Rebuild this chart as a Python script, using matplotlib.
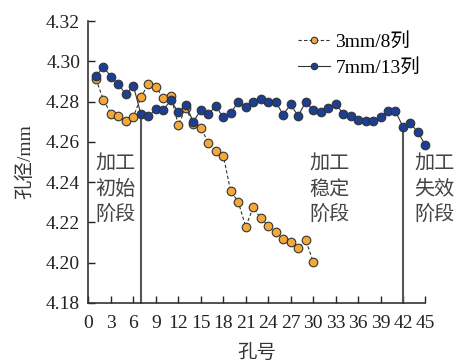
import matplotlib
matplotlib.use("Agg")
import matplotlib.pyplot as plt

plt.rcParams['font.family'] = ['Liberation Serif', 'Noto Sans CJK SC']
plt.rcParams['mathtext.fontset'] = 'stix'

# Data
holes_3mm = list(range(1, 31))
dia_3mm = [4.2912, 4.2809, 4.2740, 4.2728, 4.2705, 4.2725, 4.2821, 4.2888, 4.2874, 4.2816,
           4.2829, 4.2683, 4.2768, 4.2689, 4.2670, 4.2596, 4.2553, 4.2531, 4.2354, 4.2303,
           4.2178, 4.2274, 4.2220, 4.2183, 4.2151, 4.2118, 4.2104, 4.2072, 4.2114, 4.2005]
holes_7mm = list(range(1, 46))
dia_7mm = [4.2927, 4.2972, 4.2924, 4.2886, 4.2836, 4.2879, 4.2738, 4.2726, 4.2763, 4.2760,
           4.2806, 4.2746, 4.2783, 4.2700, 4.2758, 4.2740, 4.2776, 4.2723, 4.2743, 4.2798,
           4.2773, 4.2798, 4.2811, 4.2800, 4.2800, 4.2735, 4.2786, 4.2728, 4.2798, 4.2758,
           4.2750, 4.2768, 4.2790, 4.2740, 4.2730, 4.2708, 4.2702, 4.2706, 4.2725, 4.2751,
           4.2751, 4.2675, 4.2692, 4.2647, 4.2584]
xticks = list(range(0, 46, 3))
yticks = [4.18, 4.20, 4.22, 4.24, 4.26, 4.28, 4.30, 4.32]
stage_bounds = [7, 42]
stage_labels = ["加工\n初始\n阶段", "加工\n稳定\n阶段", "加工\n失效\n阶段"]
stage_label_x = [0.95, 29.5, 43.5]
stage_label_y = 4.2365

fig = plt.figure(figsize=(4.56, 3.64), dpi=100)
ax = fig.add_axes([0.194, 0.168, 0.739, 0.774])

orange = '#F5A83A'
blue = '#1C3F94'
edge = '#333333'

ax.plot(holes_3mm, dia_3mm, linestyle=(0, (3, 2)), color='#333333', lw=0.8,
        marker='o', ms=6.2, mfc=orange, mec=edge, mew=0.8, clip_on=False, label='3mm/8列', zorder=3)
ax.plot(holes_7mm, dia_7mm, linestyle='-', color='#333333', lw=0.8,
        marker='o', ms=6.2, mfc=blue, mec=edge, mew=0.8, clip_on=False, label='7mm/13列', zorder=4)

for b in stage_bounds:
    top = dia_7mm[holes_7mm.index(b)]
    ax.plot([b, b], [4.18, top], color='#555555', lw=1.5, zorder=2, clip_on=False)

for lx, lab in zip(stage_label_x, stage_labels):
    ax.text(lx, stage_label_y, lab, fontsize=14.5, color='#444444', ha='left', va='center',
            linespacing=1.28, family=['Noto Sans CJK SC'], fontweight='light')

ax.set_xlim(0, 45)
ax.set_ylim(4.18, 4.32)
ax.set_xticks(xticks)
ax.set_yticks(yticks)
ax.set_yticklabels([f"{v:.2f}" for v in yticks])
ax.tick_params(direction='in', length=5, width=1.0, labelsize=14, pad=6, colors='#222222')
ax.tick_params(axis='x', pad=9)
for s in ['top', 'right']:
    ax.spines[s].set_visible(False)
for s in ['left', 'bottom']:
    ax.spines[s].set_linewidth(1.2)
    ax.spines[s].set_color('#333333')

ax.set_xlabel('孔号', fontsize=14, labelpad=8, color='#333333')
ax.set_ylabel('孔径/mm', fontsize=14, labelpad=8, color='#333333')

leg = ax.legend(loc='upper left', bbox_to_anchor=(0.6, 0.985), frameon=False, fontsize=14,
                handlelength=1.6, handletextpad=0.3, labelspacing=0.4, markerscale=0.75,
                borderaxespad=0)

fig.savefig('out.png', dpi=100)
